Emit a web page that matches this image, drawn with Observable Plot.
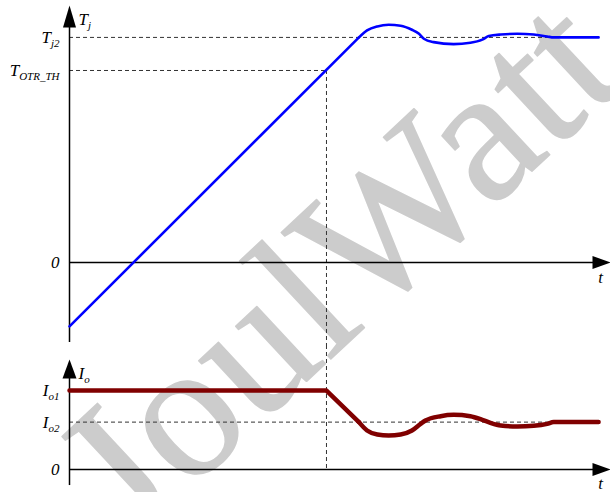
<!DOCTYPE html>
<html>
<head>
<meta charset="utf-8">
<script src="https://cdn.jsdelivr.net/npm/d3@7"></script>
<script src="https://cdn.jsdelivr.net/npm/@observablehq/plot@0.6"></script>
<style>
  html, body { margin: 0; padding: 0; background: #fff; }
  #wrap { position: relative; width: 610px; height: 492px; overflow: hidden; }
  #mark { position: absolute; left: 0; top: 0; }
  #plots { position: relative; }
</style>
</head>
<body>
<div id="wrap">
  <svg id="mark" width="610" height="492">
    <text x="381" y="312" text-anchor="middle" transform="rotate(-43 381 312)"
      style="font-family:'Liberation Serif'; font-size:193px" fill="#cccccc"
      stroke="#cccccc" stroke-width="1.5" stroke-linejoin="round">JoulWatt</text>
  </svg>
  <div id="plots"></div>
</div>
<script>
// ---- data ----
const tDomain = [0, 100];
const tjDomain = [-36.9, 116.4];
const ioDomain = [-29.1, 157];

const tjTickValues = [100, 85.3, 0];
const tjTickMain = ["T", "T", "0"];
const tjTickSub = ["j2", "OTR_TH", ""];

const ioTickValues = [100, 60, 0];
const ioTickMain = ["I", "I", "0"];
const ioTickSub = ["o1", "o2", ""];

const tOtr = 47.5;       // time when Tj reaches T_OTR_TH
const tEnd = 97.8;       // end of traces
const tjAxisRange = [-35.6, 114.2];
const ioAxisRange = [-20.3, 139.2];

const tjRampT = [0, 53.5];
const tjRampV = [-28.4, 100];
const tjSettleT = [53.5, 55.0, 56.9, 59.0, 61.2, 63.3, 64.6, 65.5, 67.3, 71.0, 74.1, 76.3, 77.5, 79.7, 82.8, 85.8, 88.3, 89.5, 97.8];
const tjSettleV = [100, 103.1, 104.9, 105.6, 105.2, 103.4, 101.6, 99.4, 97.9, 97.0, 97.6, 99.0, 100.6, 101.3, 101.6, 101.3, 100.4, 100, 100];

const ioStepT = [0, 47.5, 53.5];
const ioStepV = [100, 100, 60];
const ioSettleT = [53.5, 55.0, 56.9, 59.0, 61.2, 63.3, 64.9, 65.8, 68.6, 71.0, 74.1, 76.3, 77.8, 79.7, 82.8, 85.8, 88.3, 89.5, 97.8];
const ioSettleV = [60, 49.4, 44.3, 43.0, 44.3, 49.4, 57.8, 62.0, 67.5, 69.2, 67.5, 62.9, 59.1, 55.7, 54.4, 55.3, 57.8, 60, 60];

// ---- helpers ----
const pts = (T, V) => T.map((t, i) => ({t, v: V[i]}));
const ticks = (vals, main, sub) => vals.map((v, i) => ({v, label: main[i] + "|" + sub[i]}));

const arrowUpBig = {draw(c) { c.moveTo(0, 0); c.lineTo(6.5, 22); c.lineTo(-6.5, 22); c.closePath(); }};
const arrowUpSmall = {draw(c) { c.moveTo(0, 0); c.lineTo(7, 19); c.lineTo(-7, 19); c.closePath(); }};
const arrowRight = {draw(c) { c.moveTo(0, 0); c.lineTo(-18, -6.5); c.lineTo(-18, 6.5); c.closePath(); }};

const serif = "'Liberation Serif', 'Times New Roman', serif";
const dash = {stroke: "#333", strokeWidth: 1, strokeDasharray: "4,3"};
const axisStyle = {stroke: "black", strokeWidth: 1.5};
const labelStyle = {fontSize: 17, fontStyle: "italic", fill: "black", fontFamily: serif, lineAnchor: "middle"};
const common = {
  width: 610, marginLeft: 69, marginRight: 0, marginTop: 0, marginBottom: 0,
  style: {background: "transparent", overflow: "visible", fontFamily: serif}
};

function subscriptify(svg) {
  const ns = "http://www.w3.org/2000/svg";
  svg.querySelectorAll("text").forEach(el => {
    const s = el.textContent;
    if (!s.includes("|")) return;
    const [main, sub] = s.split("|");
    el.textContent = "";
    el.style.fontFamily = serif;
    const a = document.createElementNS(ns, "tspan");
    a.textContent = main;
    el.appendChild(a);
    if (sub) {
      const b = document.createElementNS(ns, "tspan");
      b.setAttribute("font-size", "11");
      b.setAttribute("dy", "4");
      b.textContent = sub;
      el.appendChild(b);
    }
  });
  return svg;
}

// ---- top panel: Tj ----
const topPlot = Plot.plot({
  ...common,
  height: 345,
  x: {domain: tDomain, axis: null},
  y: {domain: tjDomain, axis: null},
  marks: [
    Plot.ruleY([tjTickValues[0]], {x1: 0, x2: tEnd, ...dash}),
    Plot.ruleY([tjTickValues[1]], {x1: 0, x2: tOtr, ...dash}),
    Plot.ruleX([tOtr], {y1: tjTickValues[1], y2: tjDomain[0], ...dash}),
    Plot.ruleY([0], {x1: 0, x2: 97, ...axisStyle}),
    Plot.ruleX([0], {y1: tjAxisRange[0], y2: tjAxisRange[1] - 8, ...axisStyle}),
    Plot.dot([0], {x: 0, y: tjAxisRange[1], symbol: arrowUpBig, fill: "black", stroke: "none"}),
    Plot.dot([0], {x: tDomain[1], y: 0, symbol: arrowRight, fill: "black", stroke: "none"}),
    Plot.line(pts(tjRampT, tjRampV), {x: "t", y: "v", stroke: "#0000ff", strokeWidth: 2.6, strokeLinecap: "round"}),
    Plot.line(pts(tjSettleT, tjSettleV), {x: "t", y: "v", stroke: "#0000ff", strokeWidth: 2.6, strokeLinecap: "round", curve: "monotone-x"}),
    Plot.text(ticks(tjTickValues, tjTickMain, tjTickSub), {x: 0, y: "v", text: "label", textAnchor: "end", dx: -10, ...labelStyle}),
    Plot.text(["T|j"], {frameAnchor: "top-left", dx: 9, dy: 19, textAnchor: "start", ...labelStyle}),
    Plot.text(["t"], {x: tDomain[1], y: 0, dx: -10, dy: 15, textAnchor: "middle", ...labelStyle})
  ]
});

// ---- bottom panel: Io ----
const botPlot = Plot.plot({
  ...common,
  height: 147,
  x: {domain: tDomain, axis: null},
  y: {domain: ioDomain, axis: null},
  marks: [
    Plot.ruleY([ioTickValues[1]], {x1: 0, x2: tEnd, ...dash}),
    Plot.ruleX([tOtr], {y1: ioDomain[1], y2: 0, ...dash}),
    Plot.ruleY([0], {x1: 0, x2: 97, ...axisStyle}),
    Plot.ruleX([0], {y1: ioAxisRange[0], y2: ioAxisRange[1] - 10, ...axisStyle}),
    Plot.dot([0], {x: 0, y: ioAxisRange[1], symbol: arrowUpSmall, fill: "black", stroke: "none"}),
    Plot.dot([0], {x: tDomain[1], y: 0, symbol: arrowRight, fill: "black", stroke: "none"}),
    Plot.line(pts(ioStepT, ioStepV), {x: "t", y: "v", stroke: "#800000", strokeWidth: 4.5, strokeLinecap: "round", strokeLinejoin: "round"}),
    Plot.line(pts(ioSettleT, ioSettleV), {x: "t", y: "v", stroke: "#800000", strokeWidth: 4.5, strokeLinecap: "round", curve: "monotone-x"}),
    Plot.text(ticks(ioTickValues, ioTickMain, ioTickSub), {x: 0, y: "v", text: "label", textAnchor: "end", dx: -10, ...labelStyle}),
    Plot.text(["I|o"], {frameAnchor: "top-left", dx: 9, dy: 28, textAnchor: "start", ...labelStyle}),
    Plot.text(["t"], {x: tDomain[1], y: 0, dx: -10, dy: 14, textAnchor: "middle", ...labelStyle})
  ]
});

const holder = document.getElementById("plots");
holder.appendChild(subscriptify(topPlot));
holder.appendChild(subscriptify(botPlot));
</script>
</body>
</html>
